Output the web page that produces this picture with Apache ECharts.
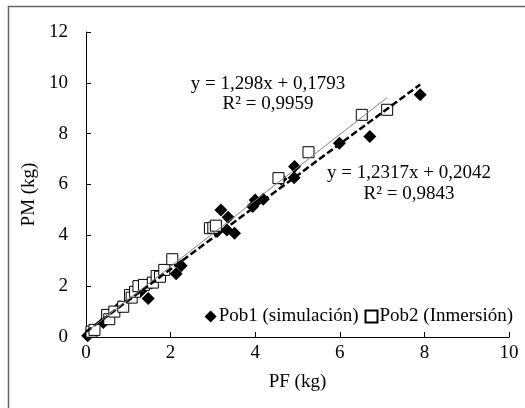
<!DOCTYPE html>
<html>
<head>
<meta charset="utf-8">
<script src="https://cdn.jsdelivr.net/npm/echarts@6/dist/echarts.min.js"></script>
<style>
  html, body { margin: 0; padding: 0; background: #fff; }
  #chart { width: 525px; height: 408px; }
</style>
</head>
<body>
<div id="chart"></div>
<script>
  // datos: [PF, PM]
  var pob1 = [
    [0.04, 0.05], [0.15, 0.24], [0.41, 0.57], [0.80, 1.19], [1.29, 1.80],
    [1.47, 1.51], [1.55, 2.12], [2.13, 2.49], [2.25, 2.80], [3.10, 4.15],
    [3.19, 5.00], [3.36, 4.71], [3.33, 4.21], [3.51, 4.08], [3.94, 5.13],
    [4.00, 5.39], [4.19, 5.42], [4.61, 6.22], [4.93, 6.71], [4.92, 6.27],
    [5.99, 7.62], [6.71, 7.89], [7.90, 9.53]
  ];
  var pob2 = [
    [0.13, 0.21], [0.20, 0.28], [0.50, 0.87], [0.55, 0.70], [0.67, 1.00],
    [0.88, 1.19], [1.04, 1.65], [1.08, 1.55], [1.16, 1.78], [1.24, 2.00],
    [1.37, 2.05], [1.58, 2.14], [1.67, 2.40], [1.75, 2.37], [1.85, 2.64],
    [2.04, 3.06], [2.93, 4.28], [3.01, 4.30], [3.07, 4.38], [4.55, 6.25],
    [5.26, 7.27], [6.52, 8.74], [7.12, 8.94]
  ];
  // lineas de tendencia (ecuaciones del grafico) y rango de x
  var fit1 = [1.2317, 0.2042];
  var fit2 = [1.298, 0.1793];
  var fit1Range = [0.0, 7.9];
  var fit2Range = [0.1, 7.12];
  var xTicks = [0, 10, 2];
  var yTicks = [0, 12, 2];

  function fitLine(f, r) {
    return [[r[0], f[0] * r[0] + f[1]], [r[1], f[0] * r[1] + f[1]]];
  }

  var serif = '"Liberation Serif", "Times New Roman", serif';
  var myChart = echarts.init(document.getElementById('chart'));

  function eqText(txt, x, y) {
    return {
      type: 'text',
      x: x, y: y,
      style: { text: txt, fontFamily: serif, fontSize: 19, fill: '#000', textAlign: 'center', textVerticalAlign: 'middle' }
    };
  }

  myChart.setOption({
    animation: false,
    textStyle: { fontFamily: serif, color: '#000' },
    grid: { left: 86, right: 16, top: 32, bottom: 71 },
    legend: {
      right: 12,
      top: 307,
      padding: 0,
      itemGap: 6,
      itemWidth: 12,
      itemHeight: 12,
      textStyle: { fontFamily: serif, fontSize: 19, color: '#000', padding: [0, 0, 0, -3] },
      data: [
        { name: 'Pob1 (simulación)', icon: 'diamond' },
        { name: 'Pob2 (Inmersión)', icon: 'rect' }
      ]
    },
    xAxis: {
      type: 'value',
      min: xTicks[0], max: xTicks[1], interval: xTicks[2],
      name: 'PF (kg)',
      nameLocation: 'middle',
      nameGap: 36,
      nameTextStyle: { fontFamily: serif, fontSize: 19, color: '#000' },
      axisLine: { lineStyle: { color: '#000', width: 1 } },
      axisTick: { inside: true, length: 5, lineStyle: { color: '#000' } },
      axisLabel: { fontFamily: serif, fontSize: 19, color: '#000', margin: 7 },
      splitLine: { show: false }
    },
    yAxis: {
      type: 'value',
      min: yTicks[0], max: yTicks[1], interval: yTicks[2],
      name: 'PM (kg)',
      nameLocation: 'middle',
      nameGap: 34,
      nameTextStyle: { fontFamily: serif, fontSize: 19, color: '#000', padding: [0, 20, 0, 0] },
      axisLine: { show: true, lineStyle: { color: '#000', width: 1 } },
      axisTick: { show: true, inside: true, length: 5, lineStyle: { color: '#000' } },
      axisLabel: { fontFamily: serif, fontSize: 19, color: '#000', margin: 18 },
      splitLine: { show: false }
    },
    series: [
      {
        name: 'Pob1 (simulación)',
        type: 'scatter',
        symbol: 'diamond',
        symbolSize: 13,
        itemStyle: { color: '#000', opacity: 1 },
        data: pob1,
        z: 2
      },
      {
        name: 'Pob2 (Inmersión)',
        type: 'scatter',
        symbol: 'rect',
        symbolSize: 11,
        itemStyle: { color: '#fff', borderColor: '#000', borderWidth: 1, opacity: 1 },
        data: pob2,
        z: 3
      },
      {
        name: 'fit1',
        type: 'line',
        data: fitLine(fit1, fit1Range),
        symbol: 'none',
        lineStyle: { color: '#000', width: 2.5, type: [7, 3] },
        z: 4,
        silent: true
      },
      {
        name: 'fit2',
        type: 'line',
        data: fitLine(fit2, fit2Range),
        symbol: 'none',
        lineStyle: { color: '#808080', width: 1 },
        z: 4,
        silent: true
      }
    ],
    graphic: [
      {
        type: 'rect',
        shape: { x: 8.5, y: 6.5, width: 700, height: 700 },
        style: { fill: 'none', stroke: '#666', lineWidth: 1.5 },
        silent: true
      },
      eqText('y = 1,298x + 0,1793', 268, 84),
      eqText('R² = 0,9959', 268, 104),
      eqText('y = 1,2317x + 0,2042', 409, 173),
      eqText('R² = 0,9843', 409, 194)
    ]
  });

  window.addEventListener('resize', function () { myChart.resize() });
</script>
</body>
</html>
